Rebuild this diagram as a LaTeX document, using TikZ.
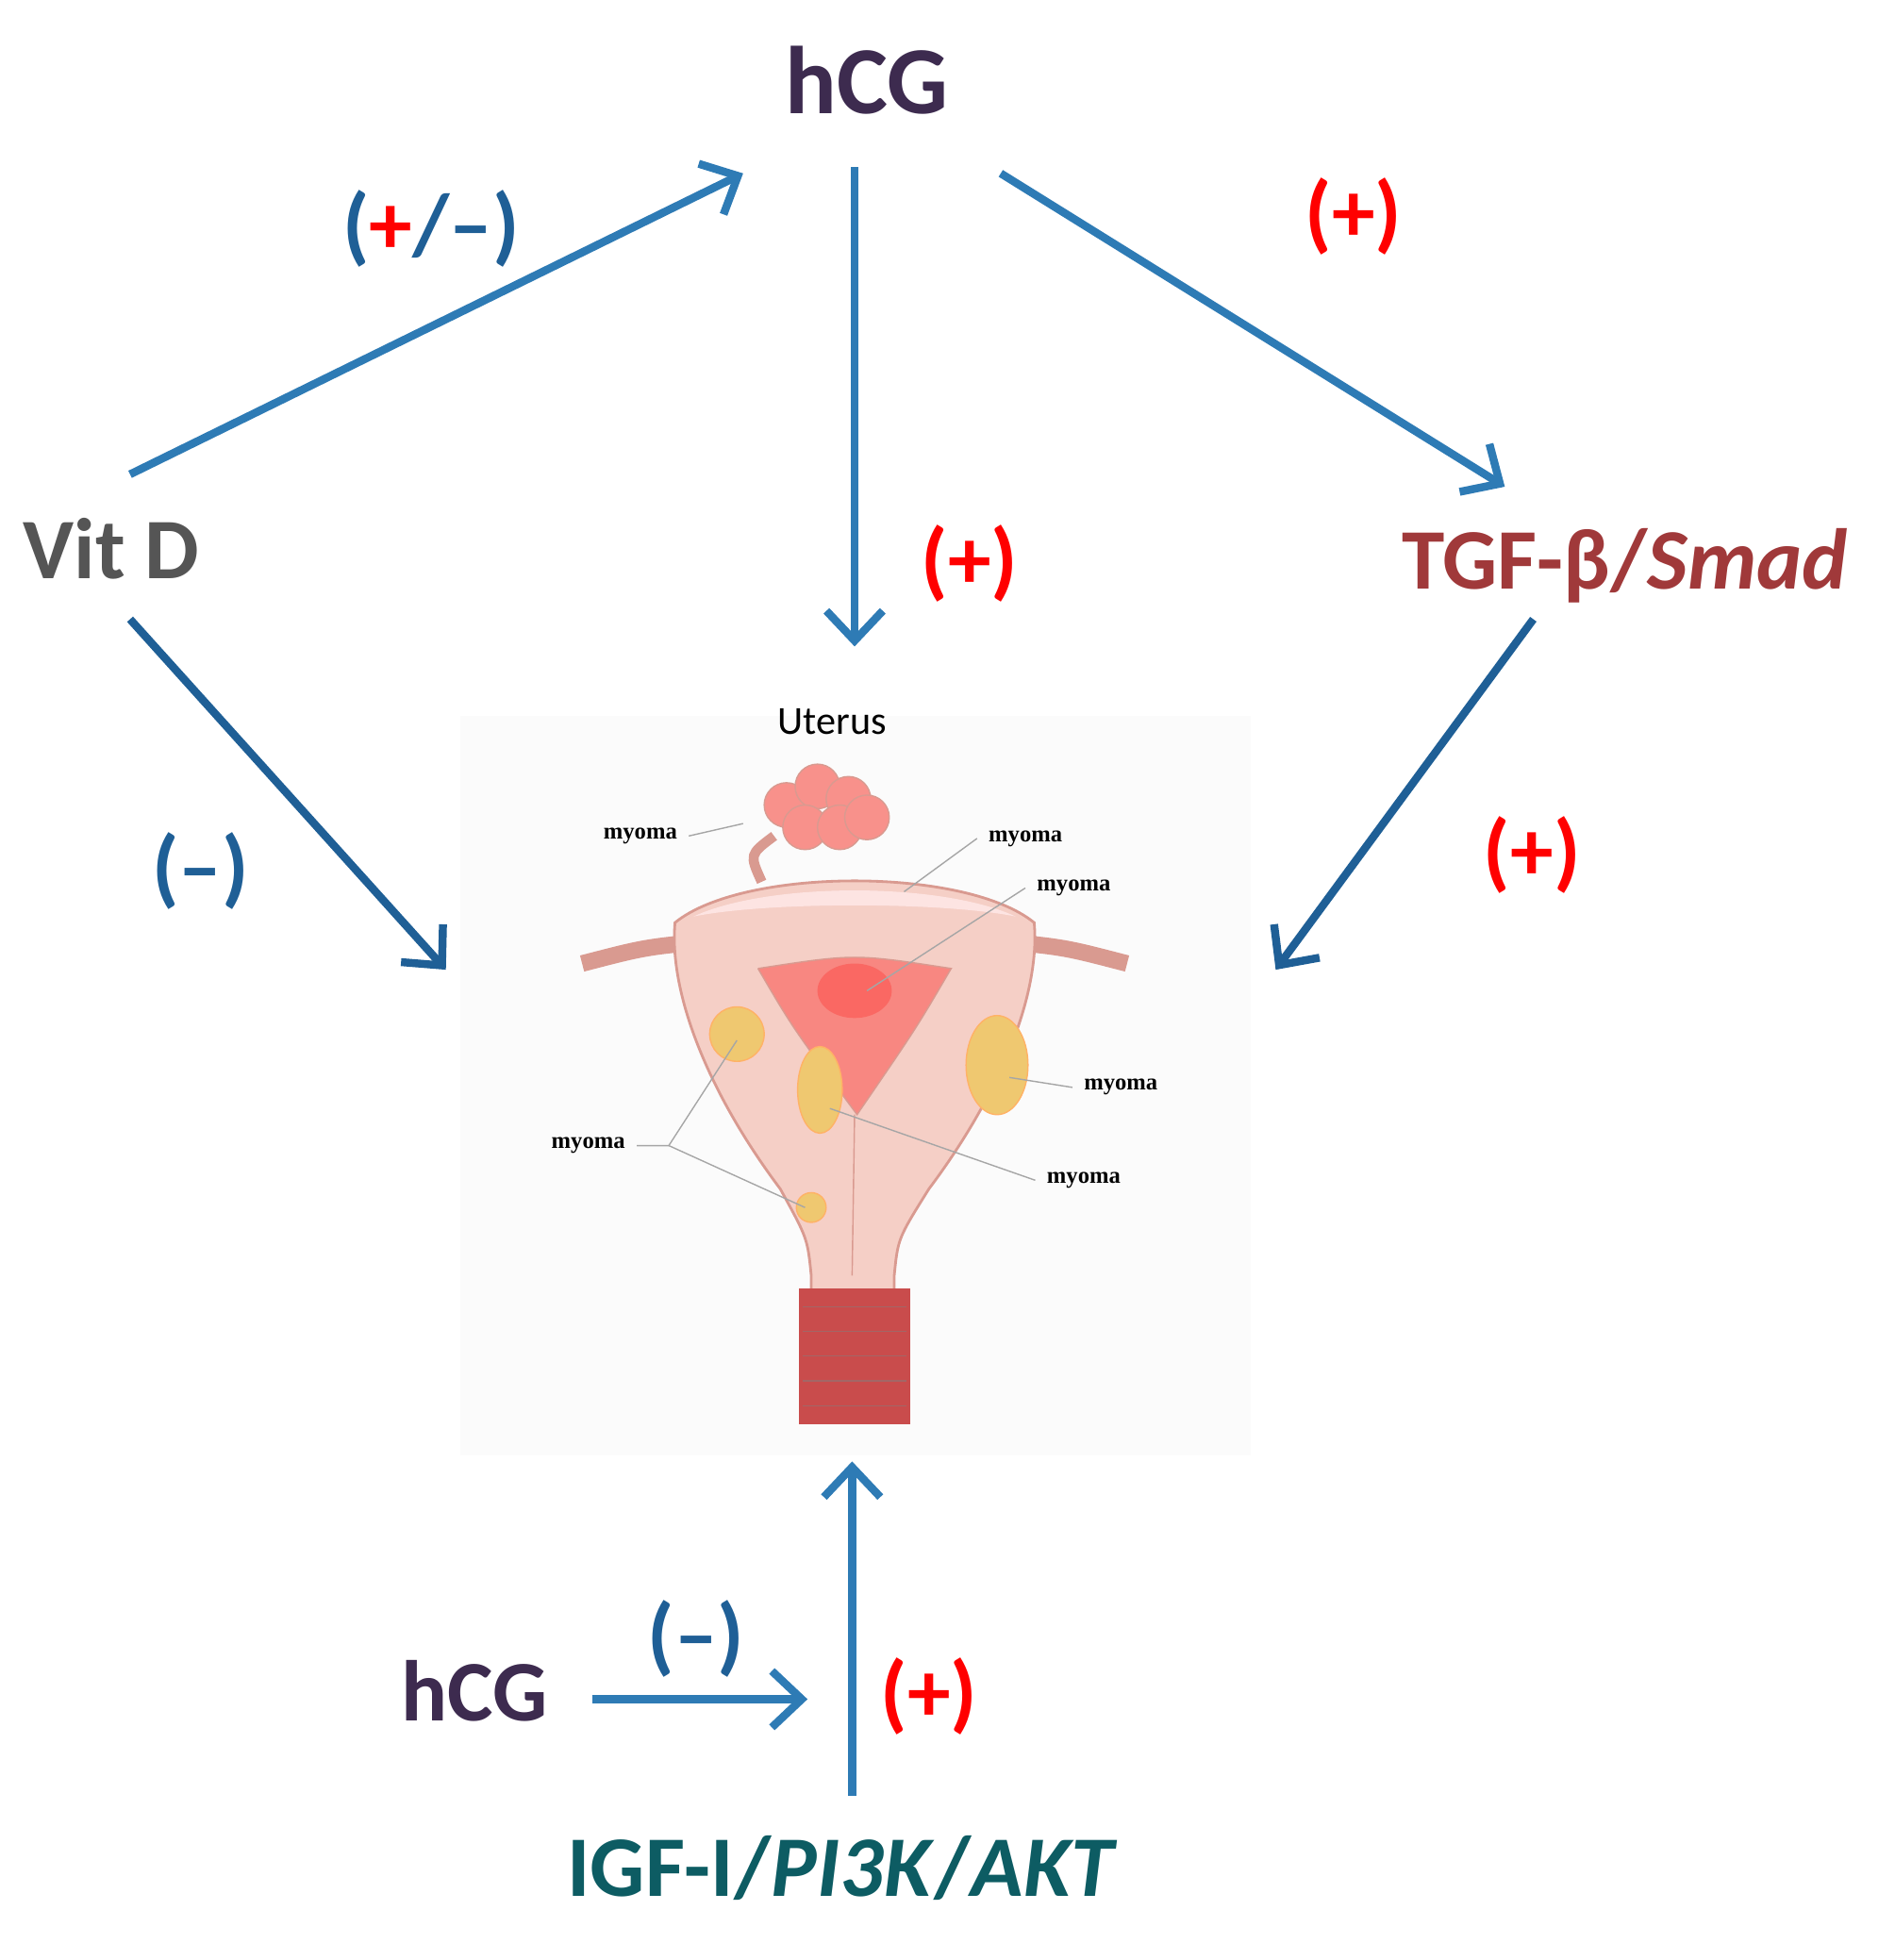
\documentclass[tikz,border=0pt]{standalone}
\usepackage{fontspec}
\setmainfont{Carlito}
\newfontfamily\serifb{Liberation Serif}
\usetikzlibrary{arrows.meta}
\definecolor{arrblue}{HTML}{2E7BB5}
\definecolor{darkblue}{HTML}{1F5F96}
\definecolor{hcgc}{HTML}{3D2B4F}
\definecolor{vitc}{HTML}{555555}
\definecolor{tgfc}{HTML}{A0393A}
\definecolor{igfc}{HTML}{0D5C63}
\definecolor{pl}{HTML}{FF0000}
\definecolor{mn}{HTML}{1F5F96}
\definecolor{tissue}{HTML}{F5CFC6}
\definecolor{tissueD}{HTML}{D99A90}
\definecolor{myo}{HTML}{EFC870}
\begin{document}
\begin{tikzpicture}[x=0.01313cm,y=-0.01313cm,
  arr/.style={draw=arrblue,line width=2.4pt,-{Straight Barb[length=9pt,width=17pt,line width=2.4pt]}},
  darr/.style={arr,draw=darkblue},
  big/.style={font=\bfseries\fontsize{29}{34}\selectfont},
  mid/.style={font=\bfseries\fontsize{26}{30}\selectfont},
  sgn/.style={font=\bfseries\fontsize{26}{30}\selectfont},
  myl/.style={font=\serifb\bfseries\fontsize{7}{8}\selectfont},
  lead/.style={draw=gray!70,line width=0.4pt}]
\useasboundingbox (0,0) rectangle (1530,1582.6);
% uterus picture background
\fill[gray!3] (372,578) rectangle (1010,1175);
\node[font=\fontsize{12}{14}\selectfont] (ut) at (672,583) {Uterus};
% tubes
\draw[tissueD,line width=5pt] (470,778) .. controls (520,765) .. (570,760);
\draw[tissueD,line width=5pt] (810,760) .. controls (860,765) .. (910,778);
% body
\filldraw[fill=tissue,draw=tissueD,line width=0.8pt]
 (545,745) .. controls (600,700) and (780,700) .. (835,745)
 .. controls (840,800) and (810,880) .. (750,960)
 .. controls (725,1000) .. (722,1030) -- (722,1140) -- (655,1140) -- (655,1030)
 .. controls (652,1000) .. (630,960) .. controls (570,880) and (540,800) .. (545,745) -- cycle;
\fill[tissue!80!red!30] (560,740) .. controls (620,712) and (760,712) .. (820,740) .. controls (760,728) and (620,728) .. (560,740);
% cavity
\filldraw[fill=red!35!tissue,draw=tissueD] (612,782) .. controls (690,770) .. (768,782) .. controls (740,830) .. (692,900) .. controls (640,830) .. (612,782);
\fill[red!50!tissue] (690,800) ellipse (30 and 22);
\draw[tissueD] (690,900) -- (688,1030);
% vagina
\fill[red!70!black!70] (645,1040) rectangle (735,1150);
\foreach \yy in {1055,1075,1095,1115,1135}{\draw[red!40!black!60] (648,\yy) -- (732,\yy);}
\fill[gray!3] (640,1150) rectangle (740,1175);
% pedunculated myoma
\draw[tissueD,line width=3pt] (615,712) .. controls (605,690) .. (625,675);
\foreach \cx/\cy in {635/650,660/635,685/645,650/668,678/668,700/660}{\filldraw[fill=red!30!tissue,draw=tissueD] (\cx,\cy) circle (18);}
% yellow myomas
\filldraw[fill=myo,draw=orange!60] (595,835) circle (22);
\filldraw[fill=myo,draw=orange!60] (662,880) ellipse (18 and 35);
\filldraw[fill=myo,draw=orange!60] (805,860) ellipse (25 and 40);
\filldraw[fill=myo,draw=orange!60] (655,975) circle (12);
% labels
\node[myl] (m1) at (517,675) {myoma};
\node[myl] (m2) at (828,677) {myoma};
\node[myl] (m3) at (867,717) {myoma};
\node[myl] (m4) at (905,878) {myoma};
\node[myl] (m5) at (875,953) {myoma};
\node[myl] (m6) at (475,925) {myoma};
\draw[lead] (m1.east) -- (600,665);
\draw[lead] (m2.west) -- (730,720);
\draw[lead] (m3.west) -- (700,800);
\draw[lead] (m4.west) -- (815,870);
\draw[lead] (m5.west) -- (670,895);
\draw[lead] (m6.east) -- (540,925) -- (595,840);
\draw[lead] (540,925) -- (650,975);
% main texts
\node[big,text=hcgc] (hcg) at (700,65) {hCG};
\node[mid,text=vitc] (vit) at (90,443) {Vit D};
\node[mid,text=tgfc] (tgf) at (1312,457) {TGF-β/\textit{Smad}};
\node[mid,text=hcgc] (hcg2) at (383,1365) {hCG};
\node[mid,text=igfc] (igf) at (680,1508) {IGF-I/\textit{PI3K}/\textit{AKT}};
% arrows
\coordinate (a1) at (105,383); \coordinate (a2) at (600,140);
\coordinate (b1) at (690,135); \coordinate (b2) at (690,522);
\coordinate (c1) at (808,140); \coordinate (c2) at (1215,393);
\coordinate (d1) at (105,500); \coordinate (d2) at (360,783);
\coordinate (e1) at (1238,500); \coordinate (e2) at (1030,783);
\coordinate (f1) at (688,1450); \coordinate (f2) at (688,1180);
\coordinate (g1) at (478,1372); \coordinate (g2) at (652,1372);
\draw[arr] (a1) -- (a2);
\draw[arr] (b1) -- (b2);
\draw[arr] (c1) -- (c2);
\draw[darr] (d1) -- (d2);
\draw[darr] (e1) -- (e2);
\draw[arr] (f1) -- (f2);
\draw[arr] (g1) -- (g2);
% signs
\node[sgn] (s1) at (348,185) {\textcolor{mn}{(}\textcolor{pl}{+}\textcolor{mn}{/–)}};
\node[sgn,text=pl] (s2) at (783,455) {(+)};
\node[sgn,text=pl] (s3) at (1093,175) {(+)};
\node[sgn,text=mn] (s4) at (162,703) {(–)};
\node[sgn,text=pl] (s5) at (1237,690) {(+)};
\node[sgn,text=pl] (s6) at (750,1370) {(+)};
\node[sgn,text=mn] (s7) at (562,1323) {(–)};
\end{tikzpicture}
\end{document}
